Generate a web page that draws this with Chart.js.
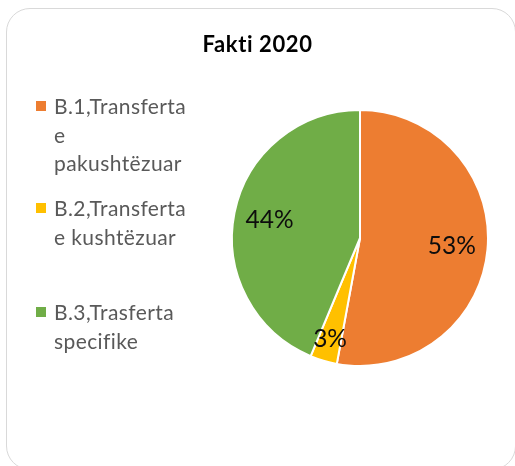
<!DOCTYPE html>
<html>
<head>
<meta charset="utf-8">
<script src="https://cdn.jsdelivr.net/npm/chart.js@4/dist/chart.umd.min.js"></script>
<style>
  html, body { margin: 0; padding: 0; background: #fff; overflow: hidden; }
  body { width: 515px; height: 466px; position: relative; font-family: Lato, "Open Sans", sans-serif; }
  .card {
    position: absolute; left: 6px; top: 8px; width: 510px; height: 462px;
    border: 1.5px solid #d9d9d9; border-radius: 24px; box-sizing: border-box;
  }
  .title {
    position: absolute; left: 0; width: 515px; top: 30px; text-align: center;
    font-weight: bold; font-size: 22px; letter-spacing: 0.6px; color: #000;
  }
  .legend { position: absolute; left: 36px; top: 92px; width: 180px; }
  .legend .item { position: absolute; left: 0; }
  .legend .box { position: absolute; left: 0; top: 9px; width: 10px; height: 10px; }
  .legend .text { margin-left: 18px; font-size: 21px; letter-spacing: 0.4px; line-height: 28.5px; color: #595959; white-space: nowrap; }
  #wrap { position: absolute; left: 0; top: 0; width: 515px; height: 466px; }
</style>
</head>
<body>
<div class="card"></div>
<div id="wrap"><canvas id="pie"></canvas></div>
<div class="title">Fakti 2020</div>
<div class="legend" id="legend"></div>
<script>
const categories = [
  ["B.1,Transferta", "e", "pakushtëzuar"],
  ["B.2,Transferta", "e kushtëzuar"],
  ["B.3,Trasferta", "specifike"]
];
const shares = [52.9, 3.4, 43.7];
const colors = ["#ED7D31", "#FFC000", "#70AD47"];

function ready(fn) {
  if (document.readyState !== "loading") {
    fn();
  } else {
    document.addEventListener("DOMContentLoaded", fn);
  }
}

ready(() => {
  buildLegend();
  drawPie();
});

function buildLegend() {
  const legend = document.getElementById("legend");
  const tops = [0, 102, 206];
  categories.forEach((lines, i) => {
    const item = document.createElement("div");
    item.className = "item";
    item.style.top = `${tops[i]}px`;
    item.innerHTML = `<span class="box" style="background:${colors[i]}"></span>` +
      `<div class="text">${lines.join("<br>")}</div>`;
    legend.appendChild(item);
  });
}

// percent labels inside the slices, like Excel's data labels
const sliceLabels = {
  id: "sliceLabels",
  afterDatasetsDraw(chart) {
    const { ctx } = chart;
    const meta = chart.getDatasetMeta(0);
    const total = shares.reduce((a, b) => a + b, 0);
    ctx.save();
    ctx.font = "24.5px Lato, 'Open Sans', sans-serif";
    ctx.fillStyle = "#0d0d0d";
    ctx.textAlign = "center";
    ctx.textBaseline = "middle";
    meta.data.forEach((arc, i) => {
      const p = arc.getProps(["x", "y", "startAngle", "endAngle", "outerRadius"], true);
      const mid = (p.startAngle + p.endAngle) / 2;
      const f = shares[i] / total < 0.05 ? 0.82 : 0.72;
      const x = p.x + Math.cos(mid) * p.outerRadius * f;
      const y = p.y + Math.sin(mid) * p.outerRadius * f;
      ctx.fillText(`${Math.round((shares[i] / total) * 100)}%`, x, y);
    });
    ctx.restore();
  },
};

function drawPie() {
  const ctx = document.getElementById("pie").getContext("2d");
  new Chart(ctx, {
    type: "pie",
    data: {
      labels: categories.map((l) => l.join(" ")),
      datasets: [
        {
          data: shares,
          backgroundColor: colors,
          borderColor: "#ffffff",
          borderWidth: 2,
        },
      ],
    },
    options: {
      responsive: true,
      maintainAspectRatio: false,
      animation: false,
      layout: { padding: { left: 231, right: 26, top: 109, bottom: 99 } },
      plugins: {
        legend: { display: false },
        tooltip: { enabled: false },
        title: { display: false },
      },
    },
    plugins: [sliceLabels],
  });
}
</script>
</body>
</html>
